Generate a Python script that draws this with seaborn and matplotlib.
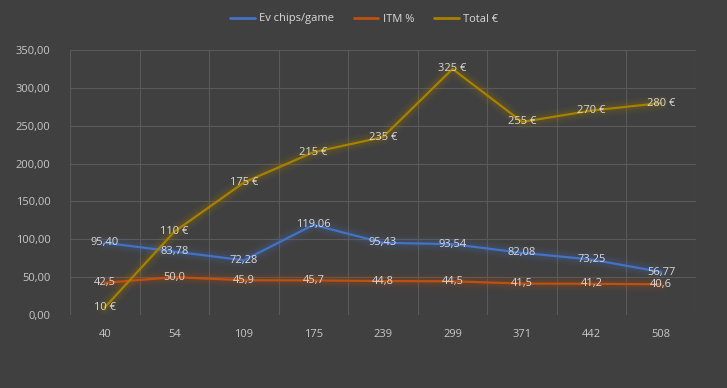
import matplotlib
matplotlib.use("Agg")
import matplotlib.pyplot as plt
import seaborn as sns
import pandas as pd
import numpy as np

categories = ["40", "54", "109", "175", "239", "299", "371", "442", "508"]
ev_chips = [95.40, 83.78, 72.28, 119.06, 95.43, 93.54, 82.08, 73.25, 56.77]
itm_pct = [42.5, 50.0, 45.9, 45.7, 44.8, 44.5, 41.5, 41.2, 40.6]
total_eur = [10, 110, 175, 215, 235, 325, 255, 270, 280]
y_ticks = [0, 50, 100, 150, 200, 250, 300, 350]

series_names = ["Ev chips/game", "ITM %", "Total €"]
colors = {"Ev chips/game": "#4472C4", "ITM %": "#C0500F", "Total €": "#A88000"}
label_fmt = {
    "Ev chips/game": lambda v: f"{v:.2f}".replace(".", ","),
    "ITM %": lambda v: f"{v:.1f}".replace(".", ","),
    "Total €": lambda v: f"{v:.0f} €",
}

df = pd.DataFrame({
    "pos": list(range(len(categories))) * 3,
    "value": ev_chips + itm_pct + total_eur,
    "series": [series_names[0]] * 9 + [series_names[1]] * 9 + [series_names[2]] * 9,
})

sns.set_style("dark")
plt.rcParams["font.family"] = ["Open Sans", "DejaVu Sans"]
bg = "#404040"
fig = plt.figure(figsize=(7.27, 3.88), dpi=100, facecolor=bg)
ax = fig.add_axes([70 / 727, 1 - 315 / 388, 626 / 727, 265 / 388])
ax.set_facecolor(bg)

# glow
for lw, a in [(11, 0.05), (8, 0.07), (5, 0.10)]:
    sns.lineplot(data=df, x="pos", y="value", hue="series", palette=colors,
                 linewidth=lw, alpha=a, legend=False, ax=ax,
                 solid_capstyle="round")
sns.lineplot(data=df, x="pos", y="value", hue="series", palette=colors,
             linewidth=1.6, ax=ax)

for name in series_names:
    sub = df[df["series"] == name]
    for x, v in zip(sub["pos"], sub["value"]):
        ax.text(x, v, label_fmt[name](v), ha="center", va="center",
                color="#d9d9d9", fontsize=8, zorder=5)

ax.set_xlim(-0.5, len(categories) - 0.5)
ax.set_ylim(0, 350)
ax.set_xticks(range(len(categories)))
ax.set_xticklabels(categories)
ax.set_yticks(y_ticks)
ax.set_yticklabels([f"{t:.2f}".replace(".", ",") for t in y_ticks])
ax.set_xticks(np.arange(-0.5, len(categories), 1), minor=True)
ax.tick_params(axis="both", which="both", length=0, colors="#c8c8c8", labelsize=8)
ax.tick_params(axis="x", pad=10)
ax.tick_params(axis="y", pad=14)
ax.grid(False)
ax.grid(True, axis="y", which="major", color="#5a5a5a", linewidth=0.8)
ax.grid(True, axis="x", which="minor", color="#5a5a5a", linewidth=0.8)
ax.set_xlabel("")
ax.set_ylabel("")
for s in ax.spines.values():
    s.set_visible(False)

leg = ax.legend(loc="center", bbox_to_anchor=(0.47, 1 + 31 / 265), ncol=3,
                frameon=False, fontsize=8, labelcolor="#d9d9d9",
                handlelength=2.2, columnspacing=1.8, handletextpad=0.4)
for h in leg.get_lines():
    h.set_linewidth(2)

fig.savefig("out.png", dpi=100, facecolor=bg)
